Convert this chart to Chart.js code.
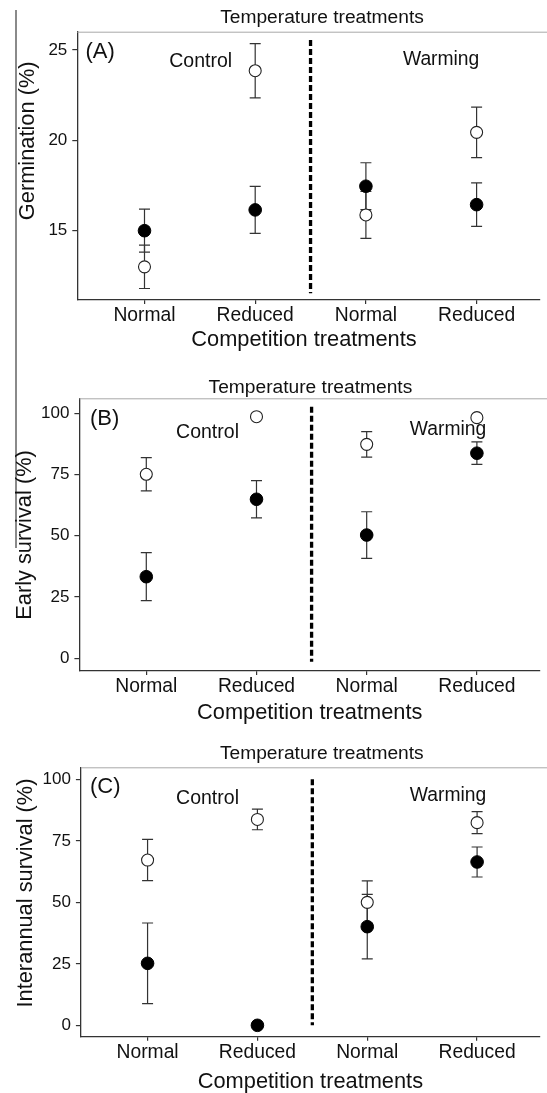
<!DOCTYPE html>
<html>
<head>
<meta charset="utf-8">
<script src="https://cdn.jsdelivr.net/npm/chart.js@4.4.0/dist/chart.umd.min.js"></script>
<style>
  html, body { margin: 0; padding: 0; background: #fff; }
  body { width: 547px; height: 1093px; position: relative; overflow: hidden; }
  canvas { position: absolute; left: 0; }
</style>
</head>
<body>
<canvas id="panelA" width="547" height="360" style="top:0px"></canvas>
<canvas id="panelB" width="547" height="370" style="top:360px"></canvas>
<canvas id="panelC" width="547" height="363" style="top:730px"></canvas>
<script>
// categories
const competition = ['Normal', 'Reduced', 'Normal', 'Reduced'];
const temperature = ['Control', 'Warming'];

// (A) germination
const germFilled = [15.0, 16.15, 17.46, 16.44];
const germFilledErr = [1.19, 1.3, 1.3, 1.2];
const germOpen = [13.0, 23.85, 15.87, 20.44];
const germOpenErr = [1.2, 1.5, 1.3, 1.4];
const germTicks = [15, 20, 25];

// (B) early survival
const earlyFilled = [33.3, 64.9, 50.3, 83.7];
const earlyFilledErr = [9.8, 7.6, 9.5, 4.6];
const earlyOpen = [75.1, 98.6, 87.3, 98.2];
const earlyOpenErr = [6.8, 0, 5.2, 0];
const survTicks = [0, 25, 50, 75, 100];

// (C) interannual survival
const interFilled = [25.2, 0, 40.1, 66.4];
const interFilledErr = [16.4, 0, 13.1, 6.1];
const interOpen = [67.2, 83.7, 50.0, 82.4];
const interOpenErr = [8.4, 4.2, 8.7, 4.5];

const FONT = "'Liberation Sans', Arial, sans-serif";
const INK = '#111';

const decor = {
  id: 'decor',
  beforeDatasetsDraw(chart, args, opts) {
    const ctx = chart.ctx;
    const { x, y } = chart.scales;
    const area = chart.chartArea;
    ctx.save();
    // top frame line
    ctx.strokeStyle = '#a8a8a8';
    ctx.lineWidth = 1;
    ctx.beginPath();
    ctx.moveTo(area.left, area.top + 0.5);
    ctx.lineTo(chart.width, area.top + 0.5);
    ctx.stroke();
    // scan edge line on the left
    if (opts.edge) {
      ctx.strokeStyle = '#8a8a8a';
      ctx.lineWidth = 2;
      ctx.beginPath();
      ctx.moveTo(16, opts.edge[0]);
      ctx.lineTo(16, opts.edge[1]);
      ctx.stroke();
    }
    // divider between temperature treatments
    const dx = x.getPixelForValue(competition.length / 2 + 0.5);
    ctx.strokeStyle = '#000';
    ctx.lineWidth = 3.3;
    ctx.setLineDash([6, 3]);
    ctx.beginPath();
    ctx.moveTo(dx, y.getPixelForValue(opts.divider[1]));
    ctx.lineTo(dx, y.getPixelForValue(opts.divider[0]));
    ctx.stroke();
    ctx.setLineDash([]);
    // error bars
    ctx.strokeStyle = '#333';
    ctx.lineWidth = 1.2;
    chart.data.datasets.forEach((ds, i) => {
      const meta = chart.getDatasetMeta(i);
      meta.data.forEach((pt, j) => {
        const e = ds.errors[j];
        if (!e) return;
        const v = ds.data[j].y;
        const top = y.getPixelForValue(v + e);
        const bot = y.getPixelForValue(v - e);
        ctx.beginPath();
        ctx.moveTo(pt.x, top);
        ctx.lineTo(pt.x, bot);
        ctx.moveTo(pt.x - 5.5, top);
        ctx.lineTo(pt.x + 5.5, top);
        ctx.moveTo(pt.x - 5.5, bot);
        ctx.lineTo(pt.x + 5.5, bot);
        ctx.stroke();
      });
    });
    ctx.restore();
  },
  afterDraw(chart, args, opts) {
    const ctx = chart.ctx;
    ctx.save();
    ctx.fillStyle = INK;
    ctx.textBaseline = 'middle';
    opts.texts.forEach(t => {
      ctx.font = t.size + 'px ' + FONT;
      ctx.textAlign = t.align || 'left';
      if (t.rotate) {
        ctx.save();
        ctx.translate(t.x, t.y);
        ctx.rotate(-Math.PI / 2);
        ctx.fillText(t.text, 0, 0);
        ctx.restore();
      } else {
        ctx.fillText(t.text, t.x, t.y);
      }
    });
    ctx.restore();
  }
};

function makePanel(id, p) {
  const toPoints = arr => arr.map((v, i) => ({ x: i + 1, y: v }));
  return new Chart(document.getElementById(id), {
    type: 'scatter',
    data: {
      datasets: [
        {
          data: toPoints(p.filled), errors: p.filledErr,
          pointRadius: 6.3, pointBackgroundColor: '#000', pointBorderColor: '#000', pointBorderWidth: 1
        },
        {
          data: toPoints(p.open), errors: p.openErr,
          pointRadius: 6, pointBackgroundColor: '#fff', pointBorderColor: '#222', pointBorderWidth: 1.1
        }
      ]
    },
    options: {
      responsive: false,
      animation: false,
      devicePixelRatio: 1,
      layout: { padding: { top: p.top, left: 0, right: 0, bottom: 0 } },
      plugins: {
        legend: { display: false },
        tooltip: { enabled: false },
        decor: { texts: p.texts, divider: p.divider, edge: p.edge }
      },
      scales: {
        x: {
          type: 'linear', min: 0.393, max: 4.57,
          afterBuildTicks: s => { s.ticks = competition.map((c, i) => ({ value: i + 1 })); },
          afterFit: s => { s.height = p.xHeight; },
          ticks: {
            callback: (v, i) => competition[i],
            font: { family: FONT, size: 19.3 }, color: INK, padding: 0,
            maxRotation: 0, autoSkip: false
          },
          grid: { drawOnChartArea: false, tickLength: 4, color: '#333', lineWidth: 1.2 },
          border: { display: true, color: '#333', width: 1.3 }
        },
        y: {
          min: p.yMin, max: p.yMax,
          afterBuildTicks: s => { s.ticks = p.yTicks.map(v => ({ value: v })); },
          afterFit: s => { s.width = p.left; },
          ticks: { font: { family: FONT, size: 17 }, color: INK, padding: 5 },
          grid: { drawOnChartArea: false, tickLength: 5, color: '#333', lineWidth: 1.2 },
          border: { display: true, color: '#333', width: 1.3 }
        }
      }
    },
    plugins: [decor]
  });
}

function panelTexts(o) {
  return [
    { text: 'Temperature treatments', x: o.tempX, y: o.tempY, size: 19.2, align: 'center' },
    { text: o.label, x: o.labelX, y: o.labelY, size: 22 },
    { text: temperature[0], x: o.ctrlX, y: o.ctrlY, size: 19.5 },
    { text: temperature[1], x: o.warmX, y: o.warmY, size: 19.3 },
    { text: 'Competition treatments', x: o.compX, y: o.compY, size: 21.8, align: 'center' },
    { text: o.yTitle, x: o.yTitleX, y: o.yTitleY, size: 21.8, align: 'center', rotate: true }
  ];
}

makePanel('panelA', {
  filled: germFilled, filledErr: germFilledErr, open: germOpen, openErr: germOpenErr,
  yMin: 11.165, yMax: 26.01, yTicks: germTicks, divider: [11.54, 25.55],
  left: 77.3, top: 31.7, xHeight: 60, edge: [10, 360],
  texts: panelTexts({
    tempX: 322, tempY: 17.3, label: '(A)', labelX: 85.5, labelY: 51.7,
    ctrlX: 169.2, ctrlY: 61.7, warmX: 402.9, warmY: 59.3,
    compX: 304, compY: 340, yTitle: 'Germination (%)', yTitleX: 27.9, yTitleY: 140.8
  })
});

makePanel('panelB', {
  filled: earlyFilled, filledErr: earlyFilledErr, open: earlyOpen, openErr: earlyOpenErr,
  yMin: -5.18, yMax: 106.1, yTicks: survTicks, divider: [-1.4, 102.7],
  left: 79.4, top: 38.3, xHeight: 59, edge: [0, 188],
  texts: panelTexts({
    tempX: 310.4, tempY: 27.3, label: '(B)', labelX: 90, labelY: 59.3,
    ctrlX: 176.1, ctrlY: 72.7, warmX: 409.8, warmY: 70,
    compX: 309.7, compY: 352.7, yTitle: 'Early survival (%)', yTitleX: 25.1, yTitleY: 175
  })
});

makePanel('panelC', {
  filled: interFilled, filledErr: interFilledErr, open: interOpen, openErr: interOpenErr,
  yMin: -4.63, yMax: 104.9, yTicks: survTicks, divider: [0, 100],
  left: 80.9, top: 37.3, xHeight: 56.3, edge: null,
  texts: panelTexts({
    tempX: 321.8, tempY: 24, label: '(C)', labelX: 90, labelY: 57.3,
    ctrlX: 176.1, ctrlY: 68.3, warmX: 409.8, warmY: 66,
    compX: 310.4, compY: 351.7, yTitle: 'Interannual survival (%)', yTitleX: 26.2, yTitleY: 163
  })
});
</script>
</body>
</html>
